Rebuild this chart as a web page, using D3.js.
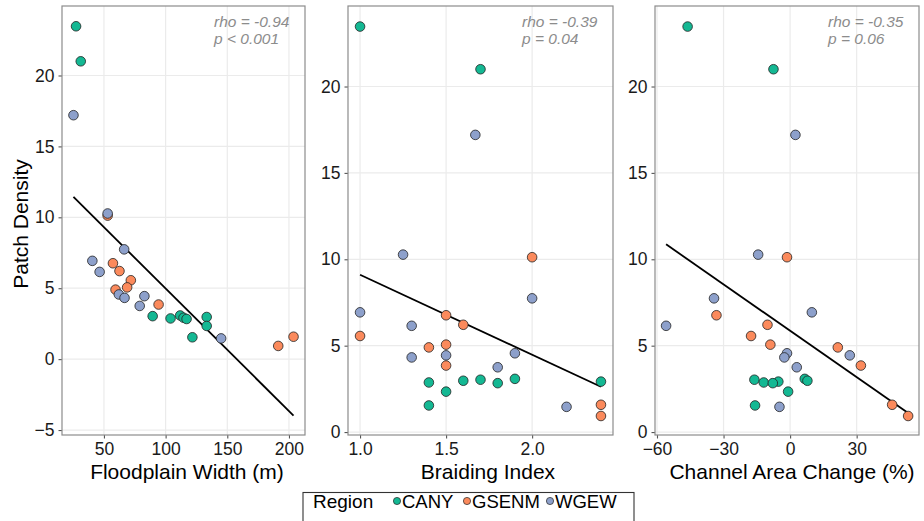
<!DOCTYPE html>
<html>
<head>
<meta charset="utf-8">
<script src="https://cdn.jsdelivr.net/npm/d3@7"></script>
<style>
  body { margin: 0; background: #fff; }
  svg { font-family: "Liberation Sans", Arial, sans-serif; }
</style>
</head>
<body>
<div id="chart"></div>
<script>
// one entry per site
const region = [
  "CANY", "CANY", "CANY", "CANY", "CANY", "CANY", "CANY", "CANY", "CANY", "CANY",
  "GSENM", "GSENM", "GSENM", "GSENM", "GSENM", "GSENM", "GSENM", "GSENM", "GSENM",
  "WGEW", "WGEW", "WGEW", "WGEW", "WGEW", "WGEW", "WGEW", "WGEW", "WGEW", "WGEW"
];
const patchDensity = [
  23.47, 21.0, 3.08, 3.03, 2.97, 2.92, 2.87, 2.83, 2.34, 1.54,
  10.12, 6.76, 6.21, 5.56, 5.06, 4.9, 3.85, 1.58, 0.93,
  17.2, 10.27, 7.74, 6.93, 6.15, 4.56, 4.44, 4.32, 3.75, 1.46
];
const floodplainWidth = [
  27.4, 31.2, 111.8, 89.5, 133.3, 114.5, 104, 117, 133.3, 121.7,
  53, 57.3, 62.6, 71.8, 68.8, 59.4, 94.3, 203.7, 191.3,
  25.3, 53, 66.4, 40.6, 46.5, 62.1, 82.8, 66.7, 79, 145
];
const braidingIndex = [
  1.0, 1.7, 1.9, 1.7, 1.6, 2.4, 1.4, 1.8, 1.5, 1.4,
  2.0, 1.5, 1.6, 1.0, 1.5, 1.4, 1.5, 2.4, 2.4,
  1.67, 1.25, 2.0, 1.0, 1.3, 1.9, 1.5, 1.3, 1.8, 2.2
];
const areaChange = [
  -46.2, -7.5, 6.6, -16.1, 7.8, -5.3, -11.9, -7.8, -0.9, -15.8,
  -1.4, -33.2, -10.2, -17.6, -8.9, 21.5, 31.9, 46.0, 53.2,
  2.4, -14.4, -34.3, 9.8, -55.9, -1.4, 26.9, -2.6, 3.0, -4.8
];

const regions = ["CANY", "GSENM", "WGEW"];
const regionColors = ["#14b893", "#fb8a5c", "#8da0cb"];

const panelTitles = ["Floodplain Width (m)", "Braiding Index", "Channel Area Change (%)"];
const panelX = [floodplainWidth, braidingIndex, areaChange];
const xTicks = [[50, 100, 150, 200], [1.0, 1.5, 2.0], [-60, -30, 0, 30]];
const xTickFormat = ["d", ".1f", "d"];
const xDomains = [[16, 213], [0.93, 2.47], [-60.9, 58.1]];
const yDomains = [[-5.35, 24.9], [-0.17, 24.66], [-0.17, 24.66]];
const yTicks = [[-5, 0, 5, 10, 15, 20], [0, 5, 10, 15, 20], [0, 5, 10, 15, 20]];
const rhoLabels = ["rho = -0.94", "rho = -0.39", "rho = -0.35"];
const pLabels = ["p < 0.001", "p = 0.04", "p = 0.06"];

const width = 924, height = 521;
const panelLeft = [62, 348, 655];
const panelRight = [305, 613, 919];
const titleX = [187, 488, 792];
const panelTop = 6, panelBottom = 435;

const color = d3.scaleOrdinal().domain(regions).range(regionColors);

const svg = d3.select("#chart").append("svg")
  .attr("width", width)
  .attr("height", height);

// least squares fit, like geom_smooth(method = "lm")
function lmFit(xs, ys) {
  const mx = d3.mean(xs), my = d3.mean(ys);
  let sxy = 0, sxx = 0;
  xs.forEach((x, i) => {
    sxy += (x - mx) * (ys[i] - my);
    sxx += (x - mx) * (x - mx);
  });
  const b = sxy / sxx;
  return { a: my - b * mx, b: b };
}

panelX.forEach((xs, p) => {
  const x = d3.scaleLinear().domain(xDomains[p]).range([panelLeft[p], panelRight[p]]);
  const y = d3.scaleLinear().domain(yDomains[p]).range([panelBottom, panelTop]);
  const g = svg.append("g");

  g.append("rect")
    .attr("x", panelLeft[p]).attr("y", panelTop)
    .attr("width", panelRight[p] - panelLeft[p])
    .attr("height", panelBottom - panelTop)
    .attr("fill", "#fff");

  // grid
  g.append("g").selectAll("line").data(xTicks[p]).join("line")
    .attr("x1", d => x(d)).attr("x2", d => x(d))
    .attr("y1", panelTop).attr("y2", panelBottom)
    .attr("stroke", "#ebebeb").attr("stroke-width", 1.2);
  g.append("g").selectAll("line").data(yTicks[p]).join("line")
    .attr("x1", panelLeft[p]).attr("x2", panelRight[p])
    .attr("y1", d => y(d)).attr("y2", d => y(d))
    .attr("stroke", "#ebebeb").attr("stroke-width", 1.2);

  // axes
  const xAxis = g.append("g")
    .attr("transform", `translate(0,${panelBottom})`)
    .call(d3.axisBottom(x).tickValues(xTicks[p]).tickFormat(d3.format(xTickFormat[p]))
      .tickSize(3.5).tickPadding(4));
  const yAxis = g.append("g")
    .attr("transform", `translate(${panelLeft[p]},0)`)
    .call(d3.axisLeft(y).tickValues(yTicks[p]).tickFormat(d3.format("d"))
      .tickSize(3.5).tickPadding(4));
  [xAxis, yAxis].forEach(a => {
    a.select(".domain").remove();
    a.selectAll(".tick line").attr("stroke", "#555").attr("stroke-width", 1.1);
    a.selectAll(".tick text").attr("fill", "#1a1a1a").style("font-size", "17.5px");
  });

  g.append("rect")
    .attr("x", panelLeft[p]).attr("y", panelTop)
    .attr("width", panelRight[p] - panelLeft[p])
    .attr("height", panelBottom - panelTop)
    .attr("fill", "none")
    .attr("stroke", "#8c8c8c").attr("stroke-width", 1.2);

  // fit line over data range
  const fit = lmFit(xs, patchDensity);
  const ext = d3.extent(xs);
  g.append("path")
    .datum(ext)
    .attr("d", d3.line().x(d => x(d)).y(d => y(fit.a + fit.b * d)))
    .attr("stroke", "#000").attr("stroke-width", 1.8).attr("fill", "none");

  // points
  g.append("g").selectAll("circle")
    .data(d3.range(xs.length))
    .join("circle")
    .attr("cx", i => x(xs[i]))
    .attr("cy", i => y(patchDensity[i]))
    .attr("r", 4.8)
    .attr("fill", i => color(region[i]))
    .attr("stroke", "#222").attr("stroke-width", 0.8);

  // stats
  const stat = g.append("text")
    .attr("x", panelRight[p] - 91)
    .attr("y", 27)
    .attr("fill", "#8c8c8c")
    .style("font-size", "15.5px")
    .style("font-style", "italic");
  stat.append("tspan").text(rhoLabels[p]);
  stat.append("tspan").attr("x", panelRight[p] - 91).attr("dy", 16.5).text(pLabels[p]);

  svg.append("text")
    .attr("x", titleX[p])
    .attr("y", 479)
    .attr("text-anchor", "middle")
    .attr("fill", "#000")
    .style("font-size", "21px")
    .text(panelTitles[p]);
});

svg.append("text")
  .attr("transform", "translate(28,224) rotate(-90)")
  .attr("text-anchor", "middle")
  .attr("fill", "#000")
  .style("font-size", "21px")
  .text("Patch Density");

// legend
const legend = svg.append("g");
legend.append("rect")
  .attr("x", 303).attr("y", 492.5)
  .attr("width", 331).attr("height", 40)
  .attr("fill", "#fff")
  .attr("stroke", "#333").attr("stroke-width", 1.1);
legend.append("text")
  .attr("x", 313).attr("y", 507.5)
  .attr("fill", "#000")
  .style("font-size", "19px")
  .text("Region");
const legendX = [397, 467, 550];
regions.forEach((r, i) => {
  legend.append("circle")
    .attr("cx", legendX[i]).attr("cy", 501)
    .attr("r", 3.6)
    .attr("fill", color(r))
    .attr("stroke", "#222").attr("stroke-width", 0.7);
  legend.append("text")
    .attr("x", legendX[i] + 5).attr("y", 507.5)
    .attr("fill", "#000")
    .style("font-size", "18.5px")
    .text(r);
});
</script>
</body>
</html>
